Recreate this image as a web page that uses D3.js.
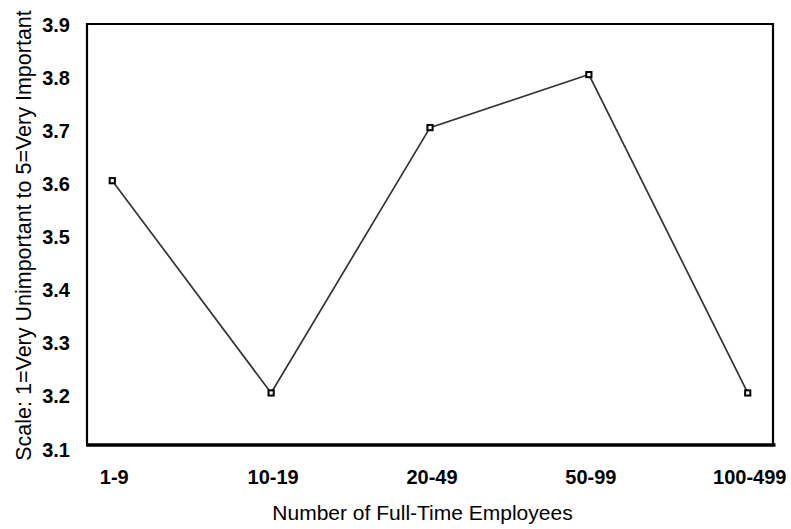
<!DOCTYPE html>
<html>
<head>
<meta charset="utf-8">
<script src="https://cdn.jsdelivr.net/npm/d3@7"></script>
<style>
  html, body { margin: 0; padding: 0; background: #fff; }
  svg { display: block; font-family: "Liberation Sans", Arial, sans-serif; }
</style>
</head>
<body>
<svg id="chart" width="791" height="529"></svg>
<script>
const categories = ["1-9", "10-19", "20-49", "50-99", "100-499"];
const values = [3.6, 3.2, 3.7, 3.8, 3.2];
const yTicks = [3.1, 3.2, 3.3, 3.4, 3.5, 3.6, 3.7, 3.8, 3.9];
const xTitle = "Number of Full-Time Employees";
const yTitle = "Scale: 1=Very Unimportant to 5=Very Important";

const svg = d3.select("#chart");
const plot = { left: 87, right: 773, top: 24, bottom: 444 };

const x = d3.scalePoint().domain(categories).range([plot.left, plot.right]).padding(0.159);
const y = d3.scaleLinear().domain([3.1, 3.9]).range([446, 21.5]);

// frame
svg.append("path")
  .attr("d", `M${plot.left},${plot.bottom} V${plot.top} H${plot.right} V${plot.bottom}`)
  .attr("fill", "none").attr("stroke", "#000").attr("stroke-width", 2.2);
svg.append("line")
  .attr("x1", plot.left - 1).attr("x2", plot.right + 2.5)
  .attr("y1", plot.bottom + 1).attr("y2", plot.bottom + 1)
  .attr("stroke", "#000").attr("stroke-width", 3.5);

// y tick labels
svg.append("g").selectAll("text").data(yTicks).join("text")
  .attr("x", 70).attr("y", d => y(d) + 10.5)
  .attr("text-anchor", "end")
  .attr("font-size", 20).attr("font-weight", "bold")
  .text(d => d.toFixed(1));

// x tick labels
svg.append("g").selectAll("text").data(categories).join("text")
  .attr("x", d => x(d) + 2).attr("y", 484)
  .attr("text-anchor", "middle")
  .attr("font-size", 20).attr("font-weight", "bold")
  .text(d => d);

// line
const data = categories.map((c, i) => ({ c, v: values[i] }));
svg.append("path").datum(data)
  .attr("d", d3.line().x(d => x(d.c)).y(d => y(d.v)))
  .attr("fill", "none").attr("stroke", "#333").attr("stroke-width", 1.7);

// markers
svg.append("g").selectAll("rect").data(data).join("rect")
  .attr("x", d => x(d.c) - 2.6).attr("y", d => y(d.v) - 2.6)
  .attr("width", 5.2).attr("height", 5.2)
  .attr("fill", "#fff").attr("stroke", "#000").attr("stroke-width", 2);

// axis titles
svg.append("text")
  .attr("x", 422.5).attr("y", 520)
  .attr("text-anchor", "middle").attr("font-size", 21)
  .text(xTitle);
svg.append("text")
  .attr("transform", "translate(31,235.5) rotate(-90)")
  .attr("text-anchor", "middle").attr("font-size", 21.5)
  .text(yTitle);
</script>
</body>
</html>
